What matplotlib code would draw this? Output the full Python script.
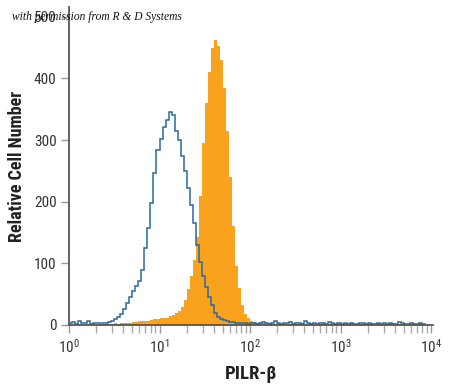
import numpy as np
import matplotlib
matplotlib.use("Agg")
import matplotlib.pyplot as plt

# ---- data (log10 bins of width 1/30 decade starting at 10^0) ----
bin_step = 1 / 30.0
isotype_counts = [
    3, 5, 2, 6, 4, 3, 6, 2, 4, 3,
    3, 4, 4, 5, 7, 9, 13, 18, 26, 35,
    45, 55, 63, 72, 90, 125, 158, 198, 247, 284,
    302, 322, 333, 345, 340, 315, 300, 275, 250, 223,
    195, 165, 130, 102, 80, 62, 45, 32, 20, 13,
    10, 8, 6, 5, 5, 4, 3, 4, 3, 2,
    3, 4, 2, 3, 5, 3, 2, 4, 6, 3,
    2, 4, 3, 5, 2, 3, 4, 2, 6, 3,
    2, 3, 2, 4, 3, 2, 5, 3, 2, 3,
    2, 4, 2, 3, 2, 2, 3, 4, 2, 3,
    2, 2, 3, 2, 4, 2, 3, 2, 2, 5,
    3, 2, 2, 3, 2, 2, 3, 2,
]
pilr_counts = [
    0, 0, 0, 0, 0, 0, 0, 0, 0, 0,
    1, 2, 1, 2, 2, 3, 2, 3, 3, 4,
    4, 5, 5, 6, 6, 7, 7, 8, 9, 10,
    11, 12, 12, 14, 16, 19, 22, 30, 40, 58,
    80, 105, 143, 210, 295, 360, 410, 450, 463, 452,
    430, 385, 315, 240, 160, 95, 60, 32, 18, 11,
    6, 5, 4, 3, 3, 2, 3, 2, 2, 3,
    2, 3, 2, 2, 3, 2, 2, 3, 2, 2,
    3, 2, 2, 2, 3, 2, 2, 2, 2, 3,
    2, 2, 2, 3, 2, 2, 2, 2, 2, 2,
    3, 2, 2, 2, 2, 2, 2, 3, 2, 2,
    2, 2, 2, 2, 2, 2, 2, 2,
]
y_ticks = [0, 100, 200, 300, 400, 500]
x_ticks = [1, 10, 100, 1000, 10000]
x_ticklabels = ['10$^{0}$', '10$^{1}$', '10$^{2}$', '10$^{3}$', '10$^{4}$']

edges = 10 ** (np.arange(len(pilr_counts) + 1) * bin_step)

plt.rcParams['font.family'] = ['Roboto Condensed', 'DejaVu Sans']
plt.rcParams['mathtext.fontset'] = 'custom'
plt.rcParams['mathtext.rm'] = 'Roboto Condensed'
plt.rcParams['mathtext.it'] = 'Roboto Condensed:italic'
plt.rcParams['mathtext.bf'] = 'Roboto Condensed:bold'

fig = plt.figure(figsize=(4.5, 3.89), dpi=100)
ax = fig.add_axes([69 / 450, 64 / 389, 364 / 450, 318 / 389])

ax.stairs(pilr_counts, edges, fill=True, color='#F8A21E', linewidth=0)
ax.stairs(isotype_counts, edges, color='#2A6A9E', linewidth=1.1)

ax.set_xscale('log')
ax.set_xlim(1, 10 ** 4.022)
ax.set_ylim(0, 516)
ax.set_xticks(x_ticks)
ax.set_xticklabels(x_ticklabels)
ax.set_yticks(y_ticks)
ax.set_yticklabels([str(v) for v in y_ticks])

for s in ['top', 'right']:
    ax.spines[s].set_visible(False)
for s in ['left', 'bottom']:
    ax.spines[s].set_color('#555555')
    ax.spines[s].set_linewidth(1.3)

ax.tick_params(axis='both', which='major', length=6, width=1, color='#999999',
               labelsize=11, labelcolor='#333333', pad=3)
ax.tick_params(axis='x', which='minor', length=6, width=1, color='#aaaaaa')

ax.set_ylabel('Relative Cell Number', fontsize=13, fontweight='bold',
              color='#222222', labelpad=6)
ax.set_xlabel('PILR-β', fontsize=13.5, fontweight='bold', color='#222222',
              labelpad=7)

fig.text(12 / 450, 1 - 17 / 389, 'with permission from R & D Systems',
         fontsize=8.3, style='italic', family='Liberation Serif',
         color='#111111', va='center', ha='left')

fig.savefig('out.png', dpi=100)
